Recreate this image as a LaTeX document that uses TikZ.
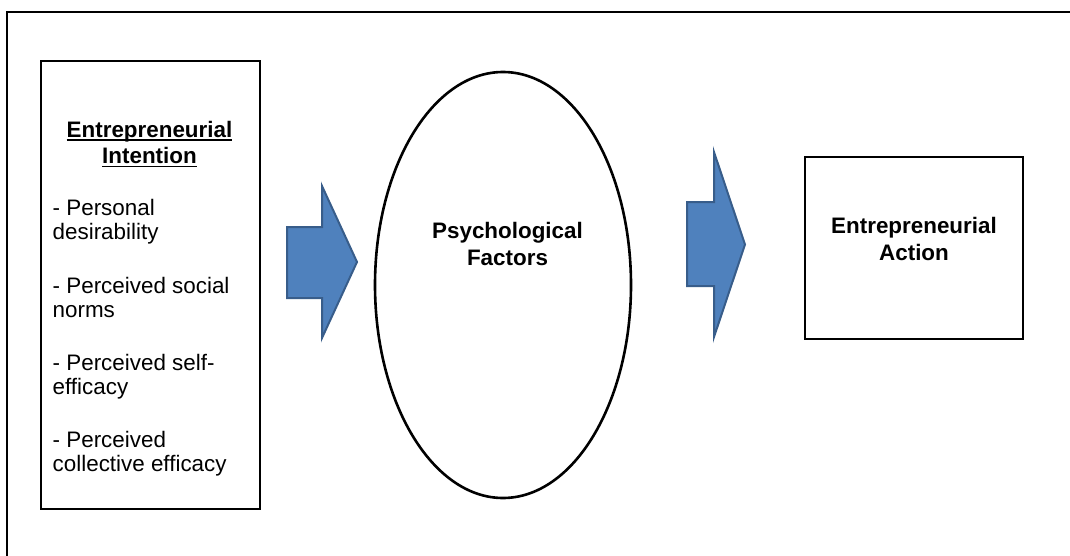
\documentclass[tikz,border=0pt]{standalone}
\usepackage{fontspec}
\setmainfont{Liberation Sans}
\usetikzlibrary{shapes.geometric,shadows}
\definecolor{arrowfill}{HTML}{4F81BD}
\definecolor{arrowline}{HTML}{385D8A}
% underline drawn as a rule just below the baseline
\newcommand\ulword[1]{\setbox0\hbox{#1}\rlap{\vrule width \wd0 height -1.8pt depth 3.4pt}\box0}
\begin{document}
\begin{tikzpicture}[x=1pt,y=-1pt,
  frame/.style={line width=2pt,black},
  box/.style={draw=black,line width=1.6pt,fill=white,inner sep=0pt,
    drop shadow={shadow xshift=1pt,shadow yshift=-1.5pt,fill=black!40,opacity=0.6}},
  oval/.style={draw=black,ellipse,line width=2.6pt,inner sep=0pt},
  blockarrow/.style={fill=arrowfill,draw=arrowline,line width=2pt,line join=miter},
  txt/.style={font=\fontsize{22.4}{26}\selectfont,inner sep=0pt},
  bold/.style={txt,font=\fontsize{22.4}{26}\selectfont\bfseries},
]
\useasboundingbox (0,0) rectangle (1070,556);

% outer frame, running off the right and bottom edges
\begin{scope}
  \clip (0,0) rectangle (1070,556);
  \draw[frame] (6.5,620) -- (6.5,12) -- (1120,12);
\end{scope}

% boxes and oval
\node[box,minimum width=219,minimum height=447.5,anchor=north west] (intent) at (40,60.5) {};
\node[oval,minimum width=256,minimum height=426] (psy) at (503,285) {};
\node[box,minimum width=218,minimum height=182,anchor=north west] (action) at (804,156) {};

% block arrows between the stages
\draw[blockarrow] (287,227) -- (322,227) -- (322,186) -- (357,262)
  -- (322,338) -- (322,298) -- (287,298) -- cycle;
\draw[blockarrow] (687,202) -- (714,202) -- (714,152) -- (745,244.5)
  -- (714,337) -- (714,286) -- (687,286) -- cycle;

% left box text
\node[bold,anchor=base] (h1) at (149.5,137.7) {\ulword{Entrepreneurial}};
\node[bold,anchor=base] (h2) at (149.5,164) {\ulword{Intention}};
\node[txt,anchor=base west] (i1a) at (52.5,215) {- Personal};
\node[txt,anchor=base west] (i1b) at (52.5,239.5) {desirability};
\node[txt,anchor=base west] (i2a) at (52.5,293) {- Perceived social};
\node[txt,anchor=base west] (i2b) at (52.5,317.5) {norms};
\node[txt,anchor=base west] (i3a) at (52.5,370) {- Perceived self-};
\node[txt,anchor=base west] (i3b) at (52.5,394.5) {efficacy};
\node[txt,anchor=base west] (i4a) at (52.5,447) {- Perceived};
\node[txt,anchor=base west] (i4b) at (52.5,471.5) {collective efficacy};

% oval text
\node[bold,anchor=base] (p1) at (507.5,238) {Psychological};
\node[bold,anchor=base] (p2) at (507.5,265) {Factors};

% right box text
\node[bold,anchor=base] (a1) at (914,233.7) {Entrepreneurial};
\node[bold,anchor=base] (a2) at (914,260.7) {Action};
\end{tikzpicture}
\end{document}
